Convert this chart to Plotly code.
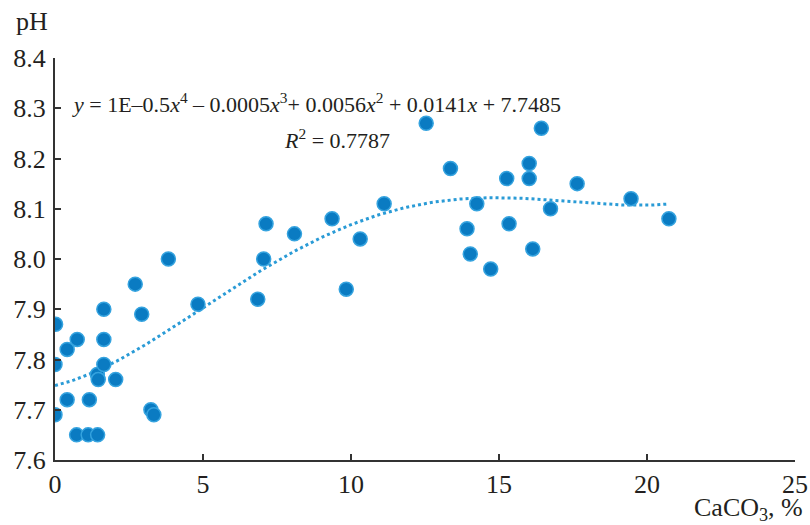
import numpy as np
import plotly.graph_objects as go

caco3 = [0.02, 0.0, 0.0, 0.41, 0.41, 0.75, 0.73, 1.16, 1.12, 1.44, 1.43, 1.46,
         1.65, 1.65, 1.65, 2.05, 2.71, 2.93, 3.24, 3.34, 3.83, 4.83, 6.85, 7.05,
         7.13, 8.09, 9.36, 9.84, 10.31, 11.12, 12.54, 13.36, 13.92, 14.03, 14.25,
         14.72, 15.26, 15.34, 16.02, 16.02, 16.14, 16.43, 16.74, 17.64, 19.46, 20.74]
ph = [7.87, 7.79, 7.69, 7.82, 7.72, 7.84, 7.65, 7.72, 7.65, 7.65, 7.77, 7.76,
      7.90, 7.84, 7.79, 7.76, 7.95, 7.89, 7.70, 7.69, 8.00, 7.91, 7.92, 8.00,
      8.07, 8.05, 8.08, 7.94, 8.04, 8.11, 8.27, 8.18, 8.06, 8.01, 8.11,
      7.98, 8.16, 8.07, 8.19, 8.16, 8.02, 8.26, 8.10, 8.15, 8.12, 8.08]

x_ticks = [0, 5, 10, 15, 20, 25]
y_ticks = [7.6, 7.7, 7.8, 7.9, 8.0, 8.1, 8.2, 8.3, 8.4]

equation_text = ("<i>y</i> = 1E–0.5<i>x</i><sup>4</sup> – 0.0005<i>x</i><sup>3</sup>+ "
                 "0.0056<i>x</i><sup>2</sup> + 0.0141<i>x</i> + 7.7485")
r2_text = "<i>R</i><sup>2</sup> = 0.7787"

# 4th-degree polynomial trend fitted to the data (as the spreadsheet trendline)
coef = np.polyfit(caco3, ph, 4)
xt = np.linspace(0, max(caco3), 200)
yt = np.polyval(coef, xt)

FONT = "Liberation Serif, Times New Roman, serif"
TXT = "#231f20"

fig = go.Figure()
fig.add_trace(go.Scatter(
    x=xt, y=yt, mode="lines",
    line=dict(color="#2a9bd6", width=3, dash="dot"),
    hoverinfo="skip", showlegend=False))
fig.add_trace(go.Scatter(
    x=caco3, y=ph, mode="markers",
    marker=dict(size=14, color="#0a7bc2", line=dict(color="#35a3df", width=1.5)),
    showlegend=False))

fig.update_layout(
    width=810, height=525,
    margin=dict(l=55, r=15, t=58, b=65),
    paper_bgcolor="white", plot_bgcolor="white",
    font=dict(family=FONT, size=26, color=TXT),
    xaxis=dict(range=[0, 25], tickvals=x_ticks, ticks="inside", ticklen=6,
               tickcolor="#333", tickwidth=1.5, showline=True, linecolor="#333",
               linewidth=2, showgrid=False, zeroline=False, automargin=False,
               tickfont=dict(size=26, color=TXT)),
    yaxis=dict(range=[7.6, 8.4], tickvals=y_ticks, tickformat=".1f",
               ticks="inside", ticklen=6, tickcolor="#333", tickwidth=1.5,
               showline=True, linecolor="#333", linewidth=2, showgrid=False,
               zeroline=False, automargin=False,
               tickfont=dict(size=26, color=TXT), ticklabelstandoff=2),
    annotations=[
        dict(x=0, y=1, xref="paper", yref="paper", text="pH",
             showarrow=False, xanchor="center", yanchor="bottom",
             xshift=-23, yshift=20, font=dict(size=26, color=TXT)),
        dict(x=1.0, y=0, xref="paper", yref="paper", text="CaCO<sub>3</sub>, %",
             showarrow=False, xanchor="right", yanchor="top", xshift=10,
             yshift=-31, font=dict(size=26, color=TXT)),
        dict(x=0.5, y=8.311, xref="x", yref="y", text=equation_text,
             showarrow=False, xanchor="left", yanchor="middle",
             font=dict(size=22, color=TXT)),
        dict(x=7.68, y=8.239, xref="x", yref="y", text=r2_text,
             showarrow=False, xanchor="left", yanchor="middle",
             font=dict(size=22, color=TXT)),
    ],
)

fig.write_html("out.html",
               config={"displayModeBar": False},
               post_script="document.body.style.margin='0';"
                           "document.body.style.overflow='hidden';")
